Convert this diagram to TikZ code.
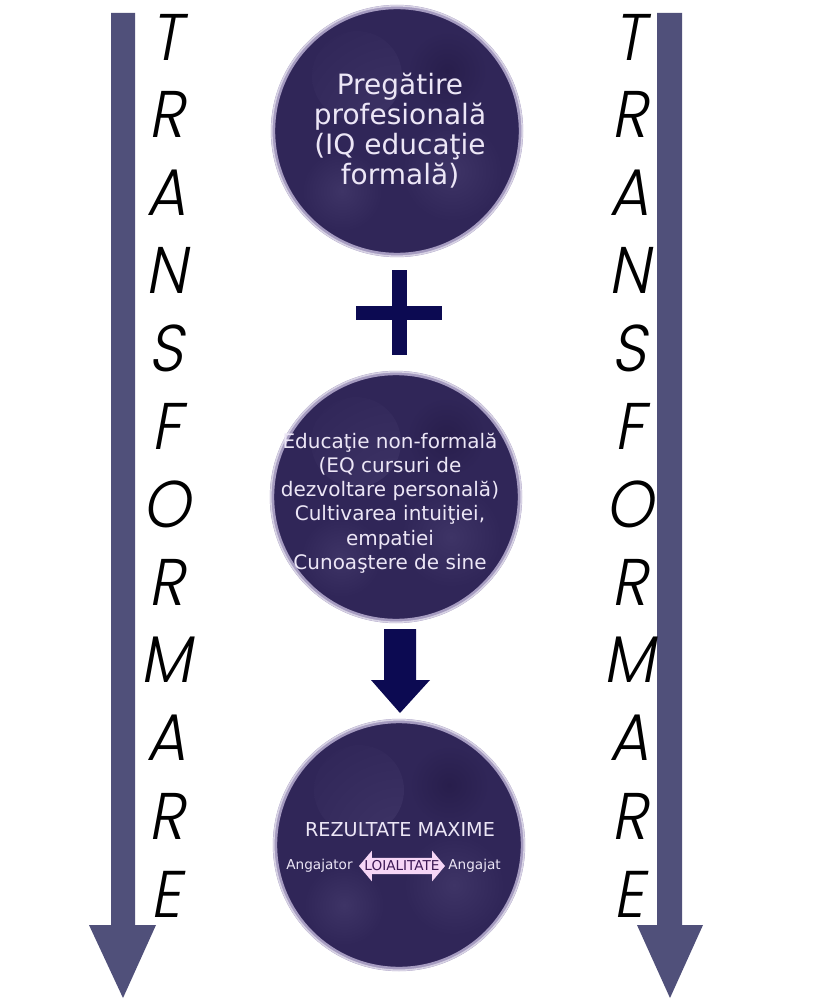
\documentclass[tikz,border=0pt]{standalone}
\usepackage{fontspec}
\setmainfont{DejaVu Sans}
\newfontfamily\tfont{Poppins}[UprightFont={* Light}, FakeSlant=0.2]
\usetikzlibrary{shapes.arrows,calc}
\definecolor{sidearrow}{RGB}{80,80,122}
\definecolor{navy}{RGB}{12,10,82}
\definecolor{bubblebase}{RGB}{48,38,88}
\definecolor{bubblelight}{RGB}{62,52,102}
\definecolor{bubbledark}{RGB}{40,30,76}
\definecolor{ringc}{RGB}{165,155,192}
\definecolor{ringlight}{RGB}{215,210,228}
\definecolor{bubbletext}{RGB}{236,230,246}
\definecolor{loipink}{RGB}{246,214,246}
\definecolor{loitext}{RGB}{60,24,84}
\tikzset{
  x=0.5pt, y=-0.5pt,
  bubble/.style={circle, minimum size=124pt, inner sep=0pt, fill=bubblebase,
    draw=ringc, line width=2.2pt,
    path picture={
      \shade[inner color=bubblelight, outer color=bubblebase]
        ($(path picture bounding box.center)+(-40,-55)$) circle (45);
      \shade[inner color=bubblelight, outer color=bubblebase]
        ($(path picture bounding box.center)+(55,40)$) circle (50);
      \shade[inner color=bubblelight, outer color=bubblebase]
        ($(path picture bounding box.center)+(-55,60)$) circle (40);
      \shade[inner color=bubbledark, outer color=bubblebase]
        ($(path picture bounding box.center)+(50,-60)$) circle (40);
    }},
  bubbletxt/.style={text=bubbletext, align=center, inner sep=0pt},
  ringouter/.style={draw=ringlight, line width=0.8pt},
  letter/.style={font=\tfont\fontsize{33}{33}\selectfont, text=black, inner sep=0pt, anchor=center, xscale=0.92},
  sidearr/.style={fill=sidearrow, draw=none},
  navyshape/.style={fill=navy, draw=none},
  loiarrow/.style={double arrow, fill=loipink, draw=none, text=loitext,
    font=\fontsize{6.8}{7}\selectfont, inner xsep=-2pt, inner ysep=1.3pt,
    double arrow head extend=3.6pt, double arrow tip angle=100, minimum height=43pt},
  smalltext/.style={text=bubbletext, font=\fontsize{6.8}{7}\selectfont, inner sep=0pt}
}
\begin{document}
\begin{tikzpicture}
\useasboundingbox (0,0) rectangle (829,1000);
% side arrows
\coordinate (ltip) at (123,998);
\coordinate (rtip) at (670,998);
\fill[sidearr] (111,13) -- (135,13) -- (135,925) -- (156,925) -- (ltip) -- (89,925) -- (111,925) -- cycle;
\fill[sidearr] (657,13) -- (682,13) -- (682,925) -- (703,925) -- (rtip) -- (637,925) -- (657,925) -- cycle;
% letters
\foreach \ch [count=\i from 0] in {T,R,A,N,S,F,O,R,M,A,R,E} {
  \node[letter] (L\i) at (166,{37+77.9*\i}) {\ch};
  \node[letter] (R\i) at (629,{37+77.9*\i}) {\ch};
}
% bubbles
\node[bubble] (c1) at (397,131) {};
\node[bubble] (c2) at (396,497) {};
\node[bubble] (c3) at (399,845) {};
\foreach \c in {c1,c2,c3} { \draw[ringouter] (\c) circle (125.2); }
\node[bubbletxt, font=\fontsize{14}{15}\selectfont] (t1) at (400,131)
  {Pregătire\\profesională\\(IQ educaţie\\formală)};
\node[bubbletxt, font=\fontsize{10}{12.1}\selectfont] (t2) at (390,503)
  {Educaţie non-formală\\(EQ cursuri de\\dezvoltare personală)\\Cultivarea intuiţiei,\\empatiei\\Cunoaştere de sine};
% plus
\fill[navyshape] (392,270) rectangle (407,355);
\fill[navyshape] (356,306) rectangle (442,320);
% down arrow
\fill[navyshape] (384,629) -- (416,629) -- (416,680) -- (430,680) -- (400,713) -- (371,680) -- (384,680) -- cycle;
% bottom bubble contents
\node[text=bubbletext, font=\fontsize{9.6}{10}\selectfont, inner sep=0pt] (rez) at (400,830) {REZULTATE MAXIME};
\node[loiarrow] (loi) at (402,866) {LOIALITATE};
\node[smalltext, anchor=east] (ang1) at (353,866) {Angajator};
\node[smalltext, anchor=west] (ang2) at (448,866) {Angajat};
\end{tikzpicture}
\end{document}
